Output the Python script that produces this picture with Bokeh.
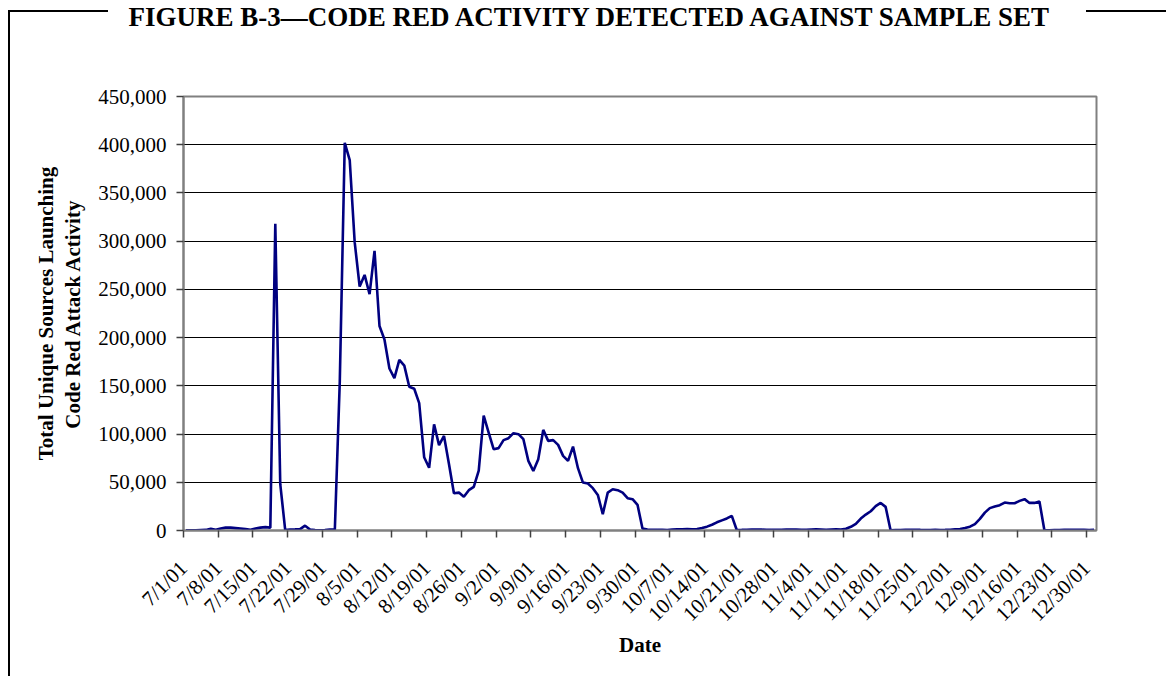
from bokeh.plotting import figure
from bokeh.models import FixedTicker, NumeralTickFormatter, Range1d, ColumnDataSource
from bokeh.embed import file_html
from bokeh.resources import INLINE

# ---------------- data ----------------
title_text = "FIGURE B-3\u2014CODE RED ACTIVITY DETECTED AGAINST SAMPLE SET"
y_title = "Total Unique Sources Launching\nCode Red Attack Activity"
x_title = "Date"

tick_labels = ["7/1/01", "7/8/01", "7/15/01", "7/22/01", "7/29/01", "8/5/01", "8/12/01",
               "8/19/01", "8/26/01", "9/2/01", "9/9/01", "9/16/01", "9/23/01", "9/30/01",
               "10/7/01", "10/14/01", "10/21/01", "10/28/01", "11/4/01", "11/11/01",
               "11/18/01", "11/25/01", "12/2/01", "12/9/01", "12/16/01", "12/23/01", "12/30/01"]
tick_days = [0, 7, 14, 21, 28, 35, 42, 49, 56, 63, 70, 77, 84, 91, 98, 105, 112, 119,
             126, 133, 140, 147, 154, 161, 168, 175, 182]
y_ticks = [0, 50000, 100000, 150000, 200000, 250000, 300000, 350000, 400000, 450000]

# daily totals, 7/1/01 .. 12/31/01 (184 days)
jul = [300, 200, 300, 500, 600, 1900, 800, 2000, 3000, 3000, 2500, 2000, 1500, 800, 2000, 3000,
       3500, 3000, 318000, 48000, 500, 1000, 1200, 1500, 5000, 1000, 400, 300, 400, 1000, 1000]
aug = [155000, 402000, 384000, 299000, 253000, 265000, 245000, 290000, 212000, 198000, 168000,
       158000, 177000, 171000, 149000, 147000, 132000, 76000, 65000, 110000, 88500, 98000, 69000,
       38700, 39300, 34900, 41800, 45200, 62000, 119000, 101600]
sep = [84300, 85400, 93700, 95700, 100900, 99900, 94700, 72200, 61800, 74000, 104300, 92900,
       93700, 88800, 77400, 72200, 87000, 64600, 49700, 48700, 43900, 36900, 16900, 39300, 42800,
       41800, 39300, 33500, 32500, 26600]
octo = [2000, 1000, 800, 700, 600, 500, 1000, 1200, 1200, 1500, 1300, 1500, 2500, 4000, 6000,
        8500, 10500, 12500, 15200, 500, 600, 800, 900, 1000, 900, 800, 700, 600, 800, 1000, 1000]
nov = [900, 800, 800, 1000, 1200, 1000, 800, 1000, 1200, 1000, 1800, 3800, 6900, 12400, 16500,
       20000, 25200, 28600, 24500, 300, 400, 500, 600, 700, 800, 600, 500, 500, 600, 500]
dec = [600, 800, 1200, 1500, 2500, 4000, 6700, 12000, 18500, 23200, 24900, 26300, 29000, 28300,
       28300, 30700, 32500, 28600, 28600, 30000, 300, 300, 400, 500, 600, 700, 800, 700, 600,
       500, 600]
values = jul + aug + sep + octo + nov + dec
day_index = list(range(len(values)))

# ---------------- figure ----------------
FONT = "Liberation Serif"
p = figure(width=1166, height=676, output_backend="svg", toolbar_location=None,
           x_range=Range1d(0, len(values)), y_range=Range1d(0, 450000),
           min_border_left=183, min_border_right=70, min_border_top=96, min_border_bottom=146,
           background_fill_color="white", border_fill_color=None)

# outer figure rules (left edge and top edge, broken by the title), drawn as page styling
p.styles = {
    "background-color": "white",
    "background-image": "linear-gradient(#000,#000), linear-gradient(#000,#000), linear-gradient(#000,#000)",
    "background-size": "2px 680px, 100px 2px, 82px 2px",
    "background-position": "8px 10px, 8px 10px, 1086px 10px",
    "background-repeat": "no-repeat",
}

src = ColumnDataSource(dict(x=[d + 0.5 for d in day_index], y=values))
p.line("x", "y", source=src, line_color="#000080", line_width=2.6)

# the title sits at the very top of the page: two empty trailing lines lift it there
p.title.text = title_text + "\n\n"
p.title.text_font = FONT
p.title.text_font_style = "bold"
p.title.text_font_size = "27px"
p.title.text_color = "black"
p.title.text_line_height = 1.05
p.title.align = "left"
p.title.offset = -55
p.title.vertical_align = "middle"
p.title.standoff = 1

p.outline_line_color = "#808080"
p.outline_line_width = 2
p.xgrid.grid_line_color = None
p.ygrid.grid_line_color = "black"
p.ygrid.grid_line_width = 1
p.ygrid.ticker = FixedTicker(ticks=y_ticks)

p.xaxis.ticker = FixedTicker(ticks=tick_days)
p.xaxis.major_label_overrides = {d: l for d, l in zip(tick_days, tick_labels)}
p.xaxis.major_label_orientation = 0.785398
p.yaxis.ticker = FixedTicker(ticks=y_ticks)
p.yaxis.formatter = NumeralTickFormatter(format="0,0")

for ax in (p.xaxis[0], p.yaxis[0]):
    ax.axis_line_color = "#808080"
    ax.axis_line_width = 2
    ax.major_tick_line_color = "#404040"
    ax.major_tick_line_width = 1.5
    ax.major_tick_out = 7
    ax.major_tick_in = 0
    ax.minor_tick_line_color = None
    ax.major_label_text_font = FONT
    ax.major_label_text_font_size = "21px"
    ax.major_label_text_color = "black"
    ax.major_label_standoff = 10
    ax.axis_label_text_font = FONT
    ax.axis_label_text_font_style = "bold"
    ax.axis_label_text_font_size = "21px"
    ax.axis_label_text_color = "black"

p.yaxis.axis_label = y_title
p.yaxis.axis_label_standoff = 10
p.yaxis.axis_label_text_line_height = 1.15
p.xaxis.axis_label = x_title
p.xaxis.axis_label_standoff = -4
p.xaxis.major_label_standoff = 27

open("out.html", "w").write(file_html(p, INLINE))
